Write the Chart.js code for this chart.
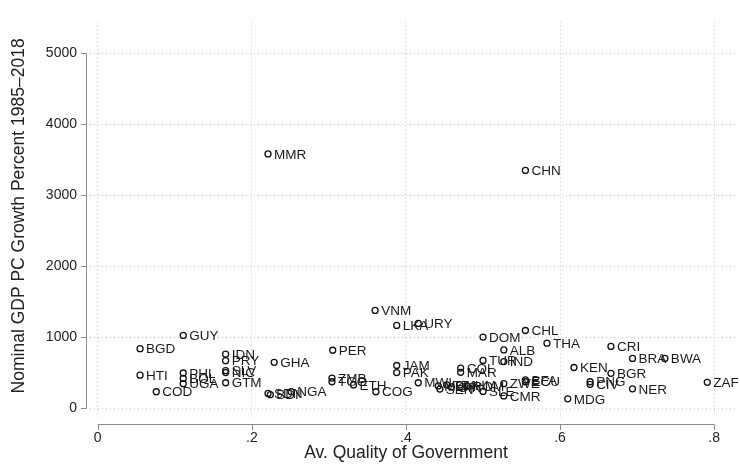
<!DOCTYPE html>
<html>
<head>
<meta charset="utf-8">
<script src="https://cdn.jsdelivr.net/npm/chart.js@4.4.1/dist/chart.umd.min.js"></script>
<style>
  body { margin: 0; background: #fff; }
  #wrap { width: 740px; height: 465px; }
</style>
</head>
<body>
<div id="wrap"><canvas id="myScatter"></canvas></div>
<script>
// Data
const countries = ['MMR', 'CHN', 'GUY', 'BGD', 'HTI', 'COD', 'PHL', 'BOL', 'UGA', 'IDN',
  'PRY', 'SLV', 'NIC', 'GTM', 'GHA', 'SDN', 'BDI', 'NGA', 'PER', 'ZMB',
  'TGO', 'ETH', 'COG', 'VNM', 'LKA', 'URY', 'JAM', 'PAK', 'MWI', 'MLI',
  'SEN', 'TZA', 'GIN', 'KHM', 'ROM', 'COL', 'MAR', 'DOM', 'TUR', 'SLE',
  'ALB', 'IND', 'ZWE', 'CMR', 'CHL', 'BFA', 'ECU', 'THA', 'MDG', 'KEN',
  'PNG', 'CIV', 'CRI', 'BGR', 'BRA', 'NER', 'BWA', 'ZAF'];
const quality = [0.221, 0.555, 0.111, 0.055, 0.055, 0.076, 0.111, 0.111, 0.111, 0.166,
  0.166, 0.166, 0.166, 0.166, 0.229, 0.221, 0.224, 0.251, 0.305, 0.304,
  0.304, 0.332, 0.361, 0.360, 0.388, 0.416, 0.388, 0.388, 0.416, 0.442,
  0.444, 0.453, 0.459, 0.470, 0.479, 0.471, 0.471, 0.500, 0.500, 0.500,
  0.527, 0.527, 0.527, 0.527, 0.555, 0.555, 0.555, 0.583, 0.610, 0.618,
  0.639, 0.639, 0.666, 0.666, 0.694, 0.694, 0.736, 0.791];
const growth = [3585, 3352, 1027, 840, 466, 233, 497, 420, 347, 763,
  671, 530, 503, 360, 648, 210, 192, 233, 818, 425,
  374, 329, 233, 1379, 1168, 1196, 603, 503, 360, 315,
  270, 329, 301, 329, 315, 566, 507, 1004, 675, 237,
  822, 658, 347, 174, 1096, 401, 374, 918, 133, 575,
  374, 338, 872, 493, 703, 274, 703, 366];
const xTicks = [0, 0.2, 0.4, 0.6, 0.8];
const yTicks = [0, 1000, 2000, 3000, 4000, 5000];
const xTitle = 'Av. Quality of Government';
const yTitle = 'Nominal GDP PC Growth Percent 1985–2018';

const points = quality.map((q, i) => ({ x: q, y: growth[i] }));

const fontFamily = '"Liberation Sans", Arial, Helvetica, sans-serif';
const axisColor = '#8a8a8a';

// Country code next to each marker
const pointLabels = {
  id: 'pointLabels',
  afterDatasetsDraw(chart) {
    const ctx = chart.ctx;
    const meta = chart.getDatasetMeta(0);
    ctx.save();
    ctx.font = '13.5px ' + fontFamily;
    ctx.fillStyle = '#1a1a1a';
    ctx.textBaseline = 'middle';
    ctx.textAlign = 'left';
    meta.data.forEach((el, i) => {
      ctx.fillText(countries[i], el.x + 6, el.y + 1);
    });
    ctx.restore();
  },
};

// Stata style axis lines that only span the tick range, plus axis titles
const stataAxes = {
  id: 'stataAxes',
  afterDraw(chart) {
    const ctx = chart.ctx;
    const xs = chart.scales.x;
    const ys = chart.scales.y;
    const axisX = 86;
    const axisY = 424;
    ctx.save();
    ctx.strokeStyle = axisColor;
    ctx.lineWidth = 1;
    // y axis
    ctx.beginPath();
    ctx.moveTo(axisX + 0.5, ys.getPixelForValue(yTicks[0]));
    ctx.lineTo(axisX + 0.5, ys.getPixelForValue(yTicks[yTicks.length - 1]));
    yTicks.forEach((t) => {
      const py = Math.round(ys.getPixelForValue(t)) + 0.5;
      ctx.moveTo(axisX + 0.5, py);
      ctx.lineTo(axisX - 5, py);
    });
    // x axis
    ctx.moveTo(xs.getPixelForValue(xTicks[0]), axisY + 0.5);
    ctx.lineTo(xs.getPixelForValue(xTicks[xTicks.length - 1]), axisY + 0.5);
    xTicks.forEach((t) => {
      const px = Math.round(xs.getPixelForValue(t)) + 0.5;
      ctx.moveTo(px, axisY + 0.5);
      ctx.lineTo(px, axisY + 6);
    });
    ctx.stroke();

    // titles centred on the tick span
    ctx.fillStyle = '#222';
    ctx.font = '17.5px ' + fontFamily;
    ctx.textAlign = 'center';
    ctx.textBaseline = 'middle';
    const midX = (xs.getPixelForValue(xTicks[0]) + xs.getPixelForValue(xTicks[xTicks.length - 1])) / 2;
    ctx.fillText(xTitle, midX, 453);
    const midY = (ys.getPixelForValue(yTicks[0]) + ys.getPixelForValue(yTicks[yTicks.length - 1])) / 2;
    ctx.translate(19, midY - 15);
    ctx.rotate(-Math.PI / 2);
    ctx.fillText(yTitle, 0, 0);
    ctx.restore();
  },
};

const ctx = document.getElementById('myScatter').getContext('2d');
const myScatter = new Chart(ctx, {
  type: 'scatter',
  data: {
    datasets: [
      {
        data: points,
        pointStyle: 'circle',
        pointRadius: 3,
        pointBorderWidth: 1.3,
        borderColor: '#111',
        backgroundColor: 'rgba(0,0,0,0)',
        pointHoverRadius: 3,
      },
    ],
  },
  options: {
    responsive: true,
    maintainAspectRatio: false,
    animation: false,
    events: [],
    layout: { padding: { top: 10, right: 5, left: 0, bottom: 0 } },
    scales: {
      x: {
        type: 'linear',
        min: -0.010,
        max: 0.827,
        afterFit: (scale) => { scale.height = 47; },
        afterBuildTicks: (scale) => { scale.ticks = xTicks.map((v) => ({ value: v })); },
        border: { display: false, dash: [1, 3] },
        grid: {
          color: '#c4c4c4',
          lineWidth: 1,
          drawTicks: false,
        },
        ticks: {
          padding: 12,
          color: '#222',
          font: { size: 14, family: fontFamily },
          callback: function (value) {
            return value === 0 ? '0' : String(value).replace(/^0/, '');
          },
        },
      },
      y: {
        type: 'linear',
        min: -137,
        max: 5452,
        afterFit: (scale) => { scale.width = 90; },
        afterBuildTicks: (scale) => { scale.ticks = yTicks.map((v) => ({ value: v })); },
        border: { display: false, dash: [1, 3] },
        grid: {
          color: '#c4c4c4',
          lineWidth: 1,
          drawTicks: false,
        },
        ticks: {
          padding: 13,
          color: '#222',
          font: { size: 14, family: fontFamily },
          callback: function (value) {
            return String(value);
          },
        },
      },
    },
    plugins: {
      legend: { display: false },
      tooltip: { enabled: false },
    },
  },
  plugins: [pointLabels, stataAxes],
});
</script>
</body>
</html>
